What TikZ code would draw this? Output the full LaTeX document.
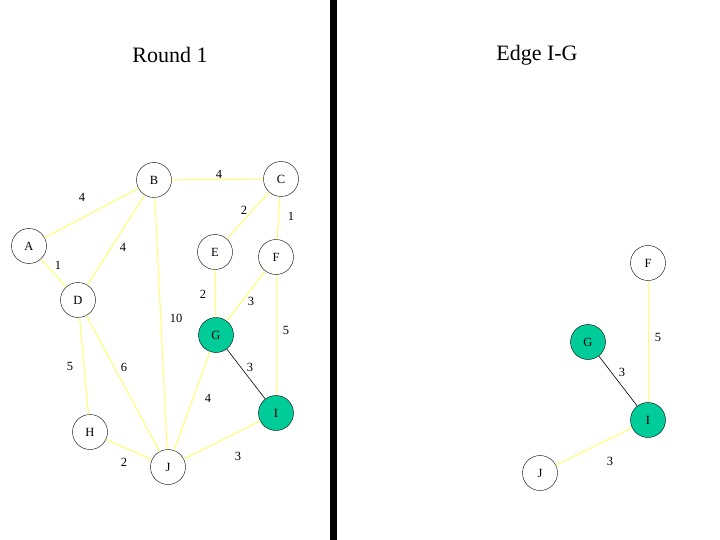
\documentclass[tikz,border=0pt]{standalone}
\usepackage{fontspec}
\setmainfont{Liberation Serif}
\usetikzlibrary{positioning}

\definecolor{edgeyellow}{RGB}{255,255,110}
\definecolor{treegreen}{RGB}{0,204,153}

\begin{document}
\begin{tikzpicture}[
    x=1pt, y=-1pt,
    font=\fontsize{12.5}{14}\selectfont,
    vertex/.style ={circle, draw=black, fill=white, minimum size=35pt, inner sep=0pt},
    intree/.style ={vertex, fill=treegreen},
    edge/.style   ={draw=edgeyellow, line width=1pt},
    chosen/.style ={draw=black, line width=0.6pt},
    weight/.style ={inner sep=1pt},
    title/.style  ={font=\fontsize{22}{26}\selectfont},
]
\useasboundingbox (0,0) rectangle (720,540);

%==================== TITLES AND DIVIDER ====================

\node[title] (t1) at (170,55) {Round 1};
\node[title] (t2) at (537,55) {Edge I-G};
\draw[line width=7pt] (333.5,0) coordinate (top) -- (333.5,540) coordinate (bot);

%==================== ROUND 1 GRAPH ====================

\node[vertex] (A) at (29,246)  {A};
\node[vertex] (B) at (154,180) {B};
\node[vertex] (C) at (281,179) {C};
\node[vertex] (D) at (78,300)  {D};
\node[vertex] (E) at (215,252) {E};
\node[vertex] (F) at (276,257) {F};
\node[intree] (G) at (216,335) {G};
\node[vertex] (H) at (90,432)  {H};
\node[intree] (I) at (276,413) {I};
\node[vertex] (J) at (168,467) {J};

\draw[edge] (A) -- (B);
\draw[edge] (B) -- (C);
\draw[edge] (C) -- (E);
\draw[edge] (C) -- (F);
\draw[edge] (B) -- (D);
\draw[edge] (A) -- (D);
\draw[edge] (E) -- (G);
\draw[edge] (F) -- (G);
\draw[edge] (B) -- (J);
\draw[edge] (F) -- (I);
\draw[edge] (D) -- (H);
\draw[edge] (D) -- (J);
\draw[chosen] (G) -- (I);
\draw[edge] (G) -- (J);
\draw[edge] (H) -- (J);
\draw[edge] (J) -- (I);

\node[weight] (wab) at (82,197)  {4};
\node[weight] (wbc) at (219,174) {4};
\node[weight] (wce) at (244,210) {2};
\node[weight] (wcf) at (291,216) {1};
\node[weight] (wbd) at (123,247) {4};
\node[weight] (wad) at (58,265)  {1};
\node[weight] (weg) at (203,294) {2};
\node[weight] (wfg) at (251,301) {3};
\node[weight] (wbj) at (176,318) {10};
\node[weight] (wfi) at (286,330) {5};
\node[weight] (wdh) at (70,366)  {5};
\node[weight] (wdj) at (124,367) {6};
\node[weight] (wgi) at (250,367) {3};
\node[weight] (wgj) at (208,398) {4};
\node[weight] (whj) at (124,462) {2};
\node[weight] (wji) at (238,456) {3};

%==================== EDGE I-G ====================

\node[vertex] (F2) at (648,263) {F};
\node[intree] (G2) at (588,342) {G};
\node[intree] (I2) at (648,420) {I};
\node[vertex] (J2) at (540,473) {J};

\draw[edge]   (F2) -- (I2);
\draw[chosen] (G2) -- (I2);
\draw[edge]   (J2) -- (I2);

\node[weight] (wfi2) at (658,337) {5};
\node[weight] (wgi2) at (622,372) {3};
\node[weight] (wji2) at (610,461) {3};

\end{tikzpicture}
\end{document}
